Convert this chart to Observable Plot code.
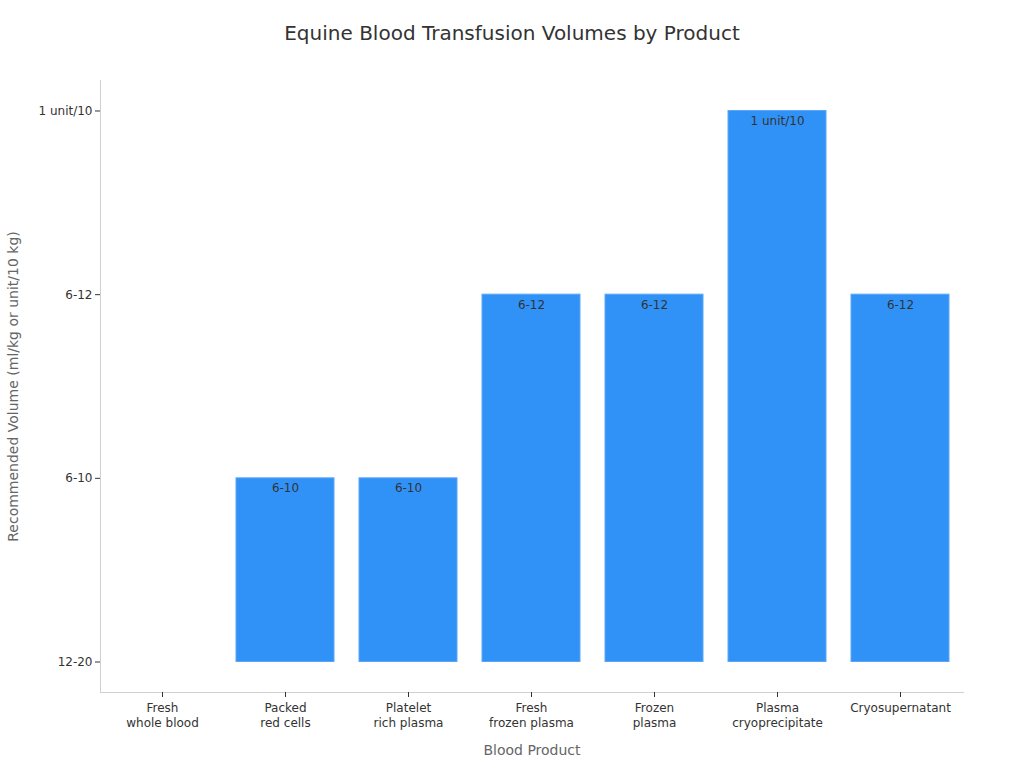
<!DOCTYPE html>
<html>
<head>
<meta charset="utf-8">
<script src="https://cdn.jsdelivr.net/npm/d3@7"></script>
<script src="https://cdn.jsdelivr.net/npm/@observablehq/plot@0.6"></script>
<style>
  html, body { margin: 0; padding: 0; background: #fff; }
  body { width: 1024px; height: 768px; overflow: hidden; font-family: "DejaVu Sans", sans-serif; }
  #title { height: 60px; line-height: 66px; text-align: center; font-size: 20px; color: #333; }
</style>
</head>
<body>
<div id="title">Equine Blood Transfusion Volumes by Product</div>
<div id="chart"></div>
<script>
const products = ["Fresh\nwhole blood", "Packed\nred cells", "Platelet\nrich plasma", "Fresh\nfrozen plasma", "Frozen\nplasma", "Plasma\ncryoprecipitate", "Cryosupernatant"];
const volumeLevels = ["12-20", "6-10", "6-12", "1 unit/10"];
const volumes = ["12-20", "6-10", "6-10", "6-12", "6-12", "1 unit/10", "6-12"];

const data = products.map((p, i) => ({product: p, volume: volumes[i], level: volumeLevels.indexOf(volumes[i])}));
const shown = data.filter(d => d.level > 0);

const pad = 0.166;
const plot = Plot.plot({
  width: 1024,
  height: 708,
  marginTop: 20,
  marginBottom: 76,
  marginLeft: 100,
  marginRight: 61,
  style: {fontFamily: "DejaVu Sans, sans-serif", fontSize: "12px", color: "#333", background: "#fff"},
  x: {type: "band", domain: products, paddingInner: 0.2, paddingOuter: 0.1},
  y: {domain: [-pad, volumeLevels.length - 1 + pad]},
  marks: [
    Plot.frame({anchor: "left", stroke: "#d0d0d0"}),
    Plot.frame({anchor: "bottom", stroke: "#d0d0d0"}),
    Plot.barY(shown, {x: "product", y1: 0, y2: "level", fill: "#3092F7", stroke: "#5aa8f5", strokeWidth: 1}),
    Plot.text(shown, {x: "product", y: "level", text: "volume", dy: 10, fill: "#333", fontSize: 12}),
    Plot.axisY({ticks: d3.range(volumeLevels.length), tickFormat: i => volumeLevels[i], tickSize: 5, tickPadding: 3,
      stroke: "#333", label: "Recommended Volume (ml/kg or unit/10 kg)", labelAnchor: "center", labelArrow: "none", labelOffset: 92}),
    Plot.axisX({tickSize: 5, tickPadding: 4, lineHeight: 1.25, stroke: "#333", label: "Blood Product", labelAnchor: "center", labelArrow: "none", labelOffset: 62})
  ]
});
d3.select(plot).selectAll("g[aria-label='y-axis label'] text, g[aria-label='x-axis label'] text").attr("fill", "#666").style("font-size", "14px");
document.getElementById("chart").appendChild(plot);
</script>
</body>
</html>
